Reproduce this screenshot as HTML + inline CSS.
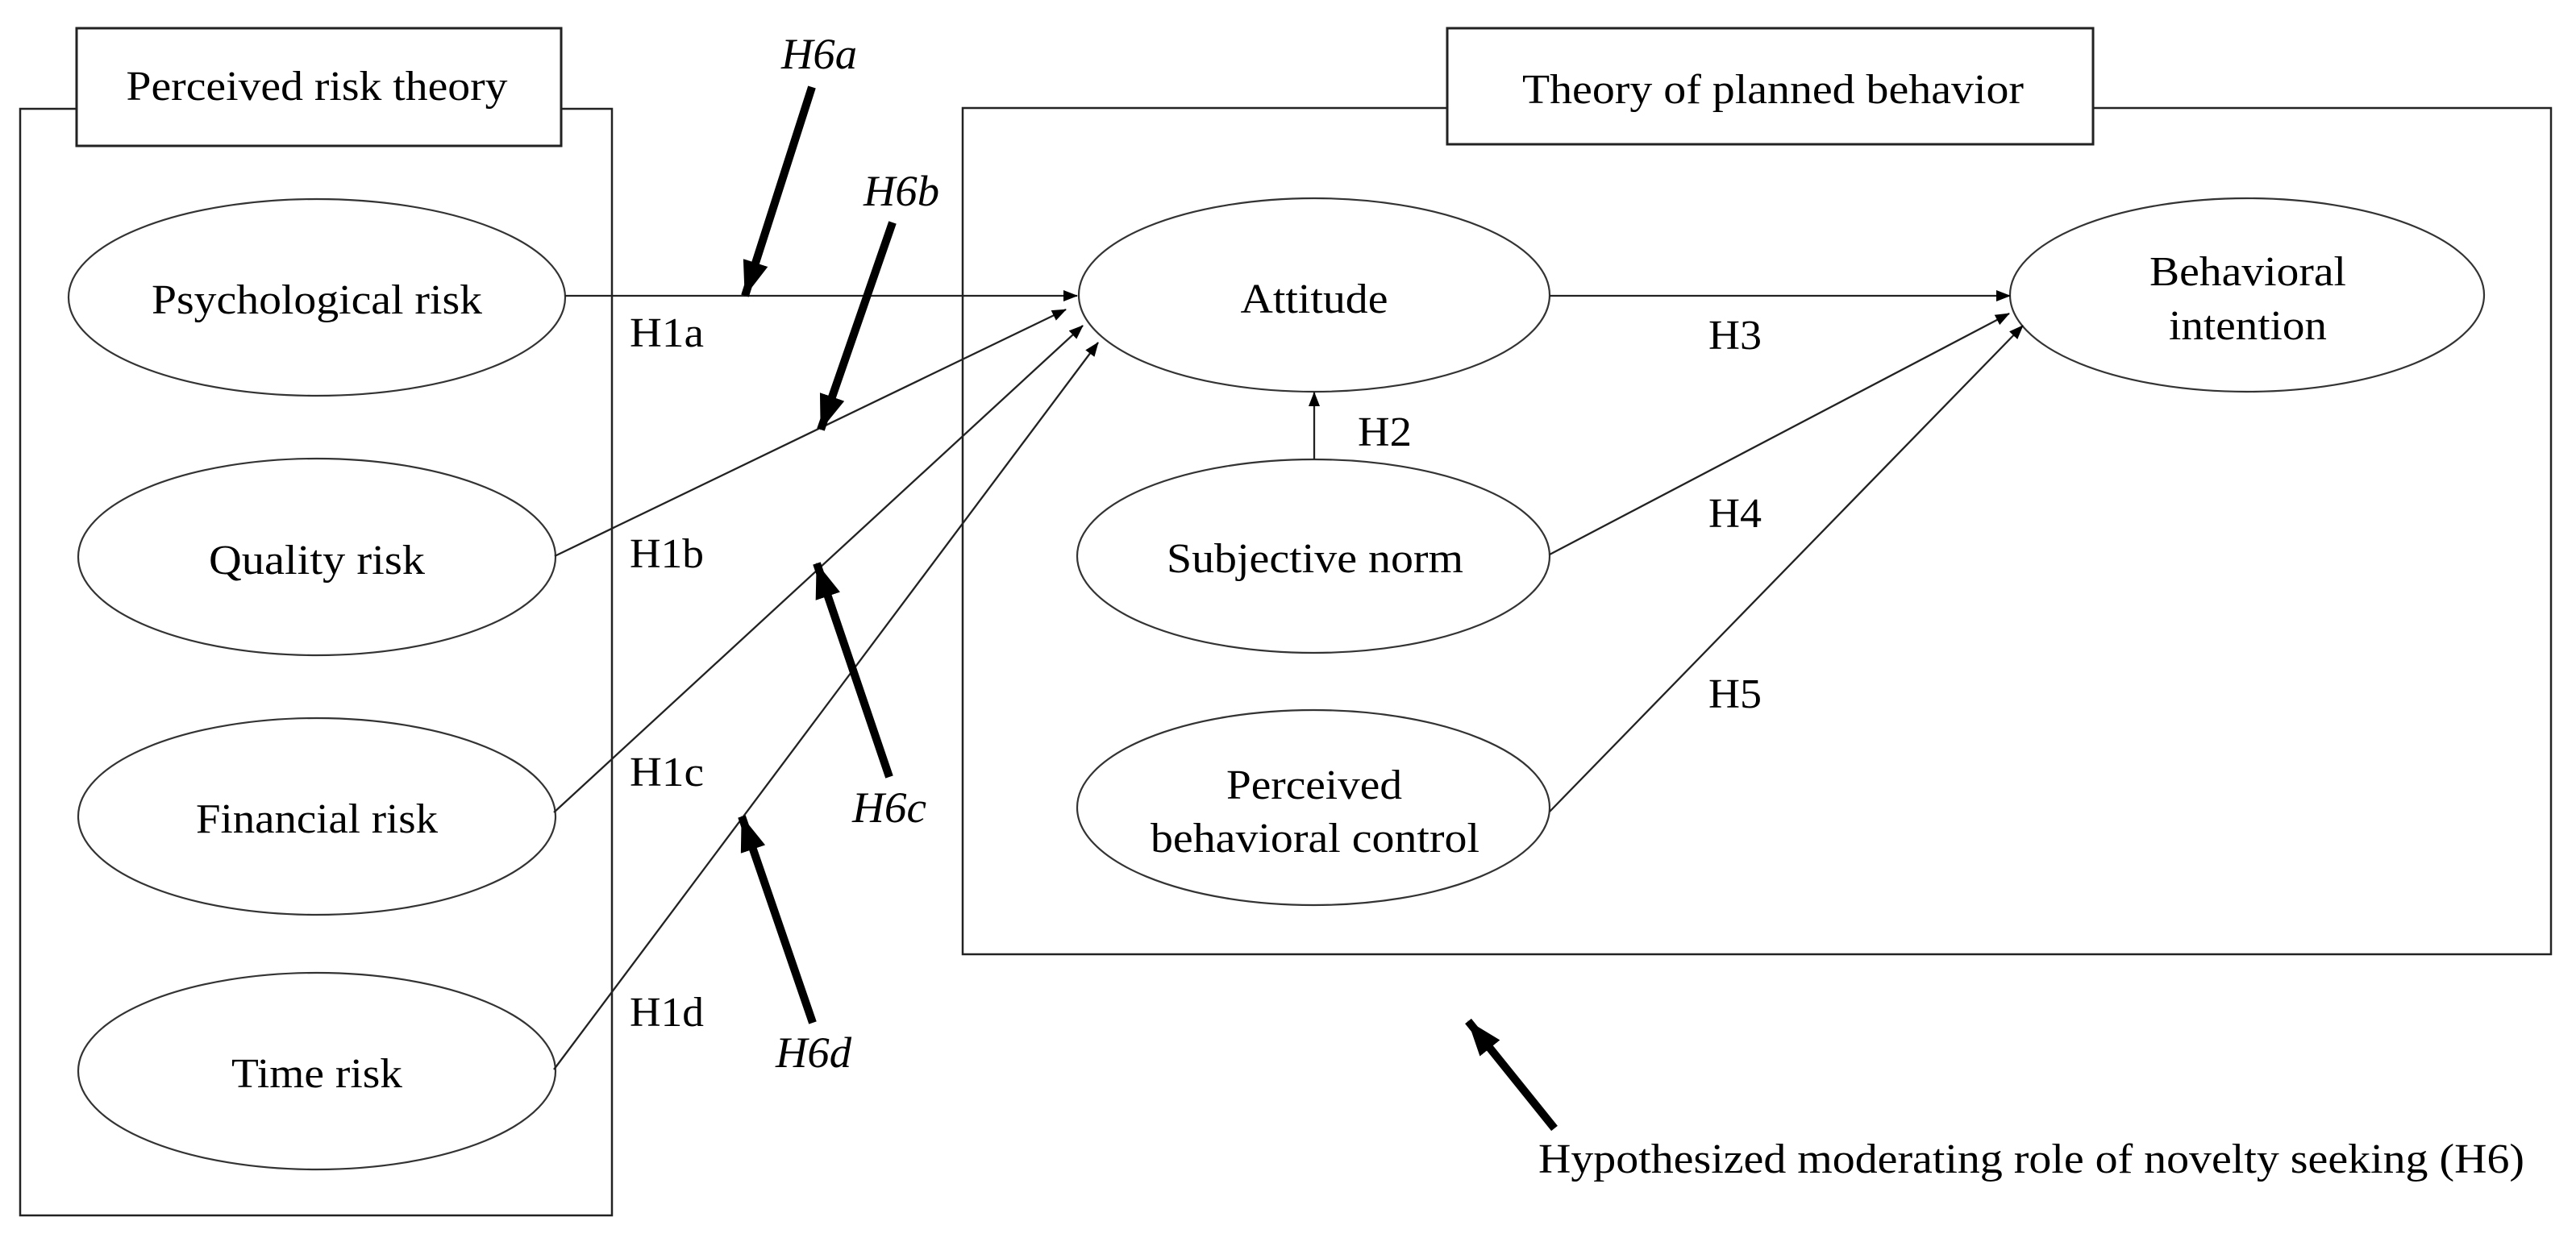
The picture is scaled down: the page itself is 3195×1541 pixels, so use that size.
<!DOCTYPE html>
<html><head><meta charset="utf-8"><style>html,body{margin:0;padding:0;background:#fff}svg{display:block}text{font-family:"Liberation Serif",serif;fill:#000}</style></head><body>
<svg width="3195" height="1541" viewBox="0 0 3195 1541" xmlns="http://www.w3.org/2000/svg">
<defs>
<marker id="a" markerWidth="18" markerHeight="14" refX="17" refY="7" orient="auto" markerUnits="userSpaceOnUse" viewBox="0 0 18 14"><path d="M0,0 L18,7 L0,14 z" fill="#000"/></marker>
<marker id="t" markerWidth="44" markerHeight="32" refX="43" refY="16" orient="auto" markerUnits="userSpaceOnUse" viewBox="0 0 44 32"><path d="M0,0 L44,16 L0,32 z" fill="#000"/></marker>
</defs>
<g fill="none" stroke="#222" stroke-width="2.5">
<rect x="25" y="135" width="734" height="1373"/>
<rect x="1194" y="134" width="1970" height="1050"/>
</g>
<rect x="95" y="35" width="601" height="146" fill="#fff" stroke="#222" stroke-width="3"/>
<rect x="1795" y="35" width="801" height="144" fill="#fff" stroke="#222" stroke-width="3"/>
<g fill="#fff" stroke="#333" stroke-width="2.2">
<ellipse cx="393" cy="369" rx="308" ry="122"/>
<ellipse cx="393" cy="691" rx="296" ry="122"/>
<ellipse cx="393" cy="1013" rx="296" ry="122"/>
<ellipse cx="393" cy="1329" rx="296" ry="122"/>
<ellipse cx="1630" cy="366" rx="292" ry="120"/>
<ellipse cx="2787" cy="366" rx="294" ry="120"/>
<ellipse cx="1629" cy="690" rx="293" ry="120"/>
<ellipse cx="1629" cy="1002" rx="293" ry="121"/>
</g>
<g stroke="#222" stroke-width="2.3" fill="none" marker-end="url(#a)">
<line x1="701" y1="367" x2="1336" y2="367"/>
<line x1="688" y1="690" x2="1322" y2="384"/>
<line x1="687" y1="1008" x2="1343" y2="404"/>
<line x1="687" y1="1327" x2="1362" y2="425"/>
<line x1="1922" y1="367" x2="2493" y2="367"/>
<line x1="1922" y1="688" x2="2492" y2="389"/>
<line x1="1922" y1="1007" x2="2509" y2="404"/>
<line x1="1630" y1="570" x2="1630" y2="487"/>
</g>
<g stroke="#000" stroke-width="10" marker-end="url(#t)">
<line x1="1007" y1="108" x2="924" y2="367"/>
<line x1="1107" y1="276" x2="1018" y2="533"/>
<line x1="1103" y1="964" x2="1013" y2="699"/>
<line x1="1008" y1="1269" x2="920" y2="1013"/>
<line x1="1928" y1="1400" x2="1821" y2="1267"/>
</g>
<g font-size="52">
<text x="393" y="124" text-anchor="middle" textLength="473" lengthAdjust="spacingAndGlyphs">Perceived risk theory</text>
<text x="393" y="389" text-anchor="middle" textLength="410" lengthAdjust="spacingAndGlyphs">Psychological risk</text>
<text x="393" y="712" text-anchor="middle" textLength="268" lengthAdjust="spacingAndGlyphs">Quality risk</text>
<text x="393" y="1033" text-anchor="middle" textLength="300" lengthAdjust="spacingAndGlyphs">Financial risk</text>
<text x="393" y="1349" text-anchor="middle" textLength="212" lengthAdjust="spacingAndGlyphs">Time risk</text>
<text x="2199" y="128" text-anchor="middle" textLength="622" lengthAdjust="spacingAndGlyphs">Theory of planned behavior</text>
<text x="1630" y="388" text-anchor="middle" textLength="183" lengthAdjust="spacingAndGlyphs">Attitude</text>
<text x="2788" y="354" text-anchor="middle" textLength="244" lengthAdjust="spacingAndGlyphs">Behavioral</text>
<text x="2788" y="421" text-anchor="middle" textLength="196" lengthAdjust="spacingAndGlyphs">intention</text>
<text x="1631" y="710" text-anchor="middle" textLength="368" lengthAdjust="spacingAndGlyphs">Subjective norm</text>
<text x="1630" y="991" text-anchor="middle" textLength="218" lengthAdjust="spacingAndGlyphs">Perceived</text>
<text x="1631" y="1057" text-anchor="middle" textLength="408" lengthAdjust="spacingAndGlyphs">behavioral control</text>
<text x="781" y="430" textLength="92" lengthAdjust="spacingAndGlyphs">H1a</text>
<text x="781" y="704" textLength="92" lengthAdjust="spacingAndGlyphs">H1b</text>
<text x="781" y="975" textLength="92" lengthAdjust="spacingAndGlyphs">H1c</text>
<text x="781" y="1273" textLength="92" lengthAdjust="spacingAndGlyphs">H1d</text>
<text x="2119" y="433" textLength="66" lengthAdjust="spacingAndGlyphs">H3</text>
<text x="1684" y="553" textLength="67" lengthAdjust="spacingAndGlyphs">H2</text>
<text x="2119" y="654" textLength="66" lengthAdjust="spacingAndGlyphs">H4</text>
<text x="2119" y="878" textLength="66" lengthAdjust="spacingAndGlyphs">H5</text>
<text x="1908" y="1455" textLength="1223" lengthAdjust="spacingAndGlyphs">Hypothesized moderating role of novelty seeking (H6)</text>
</g>
<g font-size="54" font-style="italic">
<text x="969" y="85" textLength="94" lengthAdjust="spacingAndGlyphs">H6a</text>
<text x="1071" y="255" textLength="94" lengthAdjust="spacingAndGlyphs">H6b</text>
<text x="1057" y="1020" textLength="92" lengthAdjust="spacingAndGlyphs">H6c</text>
<text x="962" y="1324" textLength="94" lengthAdjust="spacingAndGlyphs">H6d</text>
</g>
</svg>
</body></html>
